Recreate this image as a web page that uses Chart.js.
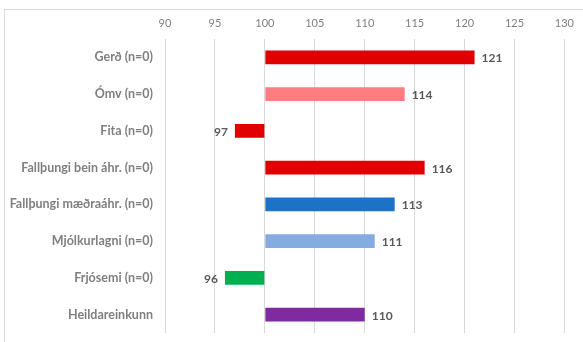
<!DOCTYPE html>
<html>
<head>
<meta charset="utf-8">
<script src="https://cdn.jsdelivr.net/npm/chart.js@4"></script>
<style>
  html, body { margin: 0; padding: 0; background: #fff; }
  #wrap { position: relative; width: 583px; height: 342px; }
  #frame { position: absolute; left: 4px; top: 9px; right: -2px; bottom: -2px;
           border-left: 1px solid #d9d9d9; border-top: 1px solid #d9d9d9; }
  canvas { position: absolute; left: 0; top: 0; }
</style>
</head>
<body>
<div id="wrap">
  <div id="frame"></div>
  <canvas id="chart" width="583" height="342"></canvas>
</div>
<script>
// --- DATA ---
const categories = [
  "Gerð (n=0)",
  "Ómv (n=0)",
  "Fita (n=0)",
  "Fallþungi bein áhr. (n=0)",
  "Fallþungi mæðraáhr. (n=0)",
  "Mjólkurlagni (n=0)",
  "Frjósemi (n=0)",
  "Heildareinkunn",
];
const values = [121, 114, 97, 116, 113, 111, 96, 110];
const barColors = ["#E00000", "#FF7C80", "#E00000", "#E00000", "#1B72C6", "#84ACE0", "#00B050", "#7F2AA0"];
const BASE_VALUE = 100; //   bars start at 100
const X_MIN = 90;
const X_MAX = 130;

const FONT = "Lato, 'Liberation Sans', sans-serif";

// draws the value at the end of each bar
const valueLabels = {
  id: "valueLabels",
  afterDatasetsDraw(chart) {
    const ctx = chart.ctx;
    const meta = chart.getDatasetMeta(0);
    ctx.save();
    ctx.font = "bold 12px " + FONT;
    ctx.fillStyle = "#595959";
    ctx.textBaseline = "middle";
    meta.data.forEach((bar, i) => {
      const v = values[i];
      if (v >= BASE_VALUE) {
        ctx.textAlign = "left";
        ctx.fillText(String(v), bar.x + 7, bar.y + 1);
      } else {
        ctx.textAlign = "right";
        ctx.fillText(String(v), bar.x - 7, bar.y + 1);
      }
    });
    ctx.restore();
  },
};

new Chart(document.getElementById("chart"), {
  type: "bar",
  data: {
    labels: categories,
    datasets: [
      {
        data: values,
        base: BASE_VALUE,
        backgroundColor: barColors,
        borderWidth: 0,
        barPercentage: 0.38,
        categoryPercentage: 1,
      },
    ],
  },
  options: {
    indexAxis: "y",
    responsive: false,
    animation: false,
    layout: { padding: { left: 0, right: 14, top: 0, bottom: 9 } },
    plugins: {
      legend: { display: false },
      tooltip: { enabled: false },
    },
    scales: {
      x: {
        position: "top",
        min: X_MIN,
        max: X_MAX,
        ticks: { stepSize: 5, color: "#7f7f7f", padding: 9, font: { family: FONT, size: 11 } },
        grid: { color: "#d9d9d9", drawTicks: false },
        border: { display: false },
        afterFit: (scale) => { scale.height = 39; },
      },
      y: {
        ticks: { color: "#7f7f7f", padding: 12, font: { family: FONT, size: 12.5, weight: "bold" } },
        grid: { display: false, drawTicks: false },
        border: { display: false },
        afterFit: (scale) => {
          scale.width = 165;
          scale.paddingTop = 0; //    tick padding would otherwise shrink the plot vertically
          scale.paddingBottom = 0;
        },
      },
    },
  },
  plugins: [valueLabels],
});
</script>
</body>
</html>
